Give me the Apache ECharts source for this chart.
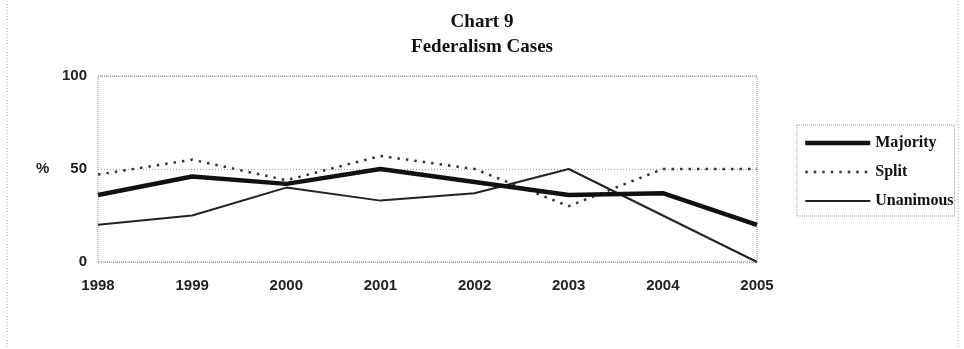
<!DOCTYPE html>
<html><head><meta charset="utf-8">
<script src="https://cdn.jsdelivr.net/npm/echarts@6/dist/echarts.min.js"></script>
<style>html,body{margin:0;padding:0;background:#fff}#c{width:964px;height:349px}</style>
</head><body><div id="c"></div>
<script>
const years = ['1998','1999','2000','2001','2002','2003','2004','2005'];
const majority = [36, 46, 42, 50, 43, 36, 37, 20];
const split = [47, 55, 44, 57, 50, 30, 50, 50];
const unanimous = [20, 25, 40, 33, 37, 50, 25, 0];
const yTicks = [0, 50, 100];

const chart = echarts.init(document.getElementById('c'), null, {renderer:'canvas'});
const serif = '"Liberation Serif","Times New Roman",serif';
const sans = '"Liberation Sans",Arial,sans-serif';
const styles = {
  Majority:{color:'#111', width:4.5, type:'solid'},
  Split:{color:'#333', width:2.5, type:[2.5,6]},
  Unanimous:{color:'#222', width:2, type:'solid'}
};
chart.setOption({
  animation:false,
  backgroundColor:'#fff',
  title:{text:'Chart 9\nFederalism Cases', left:'center', top:5,
    textStyle:{fontFamily:serif, fontWeight:'bold', fontSize:19, color:'#111', lineHeight:25}},
  graphic:[
    {type:'rect', shape:{x:7,y:-2,width:951,height:353}, style:{fill:'none', stroke:'#aaa', lineWidth:1, lineDash:[1,2]}, silent:true},
    {type:'rect', shape:{x:98,y:76,width:659,height:186}, style:{fill:'none', stroke:'#888', lineWidth:1, lineDash:[1,1]}, silent:true, z:-1},
    {type:'text', left:36, top:161, style:{text:'%', font:'bold 15px '+sans, fill:'#222'}}
  ],
  legend:{orient:'vertical', left:797, top:125, itemWidth:65, itemHeight:14, itemGap:13, itemTextGap:5,
    padding:[10,1,7,6], borderColor:'#999', borderWidth:1, borderType:'dotted',
    textStyle:{fontFamily:serif, fontWeight:'bold', fontSize:16, color:'#111'},
    itemStyle:{opacity:0},
    data:['Majority','Split','Unanimous'].map(n=>({name:n, itemStyle:{opacity:0},
      lineStyle:{color:styles[n].color, width:styles[n].width, type:styles[n].type}}))},
  grid:{left:98, right:207, top:76, bottom:87, containLabel:false},
  xAxis:{type:'category', data:years, boundaryGap:false,
    axisLine:{show:false}, axisTick:{show:false},
    axisLabel:{margin:16, fontFamily:sans, fontWeight:'bold', fontSize:15, color:'#222'}},
  yAxis:{type:'value', min:0, max:100, interval:50,
    axisLine:{show:false}, axisTick:{show:false},
    axisLabel:{margin:11, fontFamily:sans, fontWeight:'bold', fontSize:15, color:'#222',
      formatter:v=>yTicks.includes(v)?String(v):''},
    splitLine:{show:true, lineStyle:{color:'#999', width:1, type:[1,2]}}},
  series:[
    {name:'Majority', type:'line', data:majority, symbol:'none', lineStyle:styles.Majority, itemStyle:{color:'#111'}, z:3},
    {name:'Split', type:'line', data:split, symbol:'none', lineStyle:styles.Split, itemStyle:{color:'#333'}, z:2},
    {name:'Unanimous', type:'line', data:unanimous, symbol:'none', lineStyle:styles.Unanimous, itemStyle:{color:'#222'}, z:2}
  ]
});
</script></body></html>
